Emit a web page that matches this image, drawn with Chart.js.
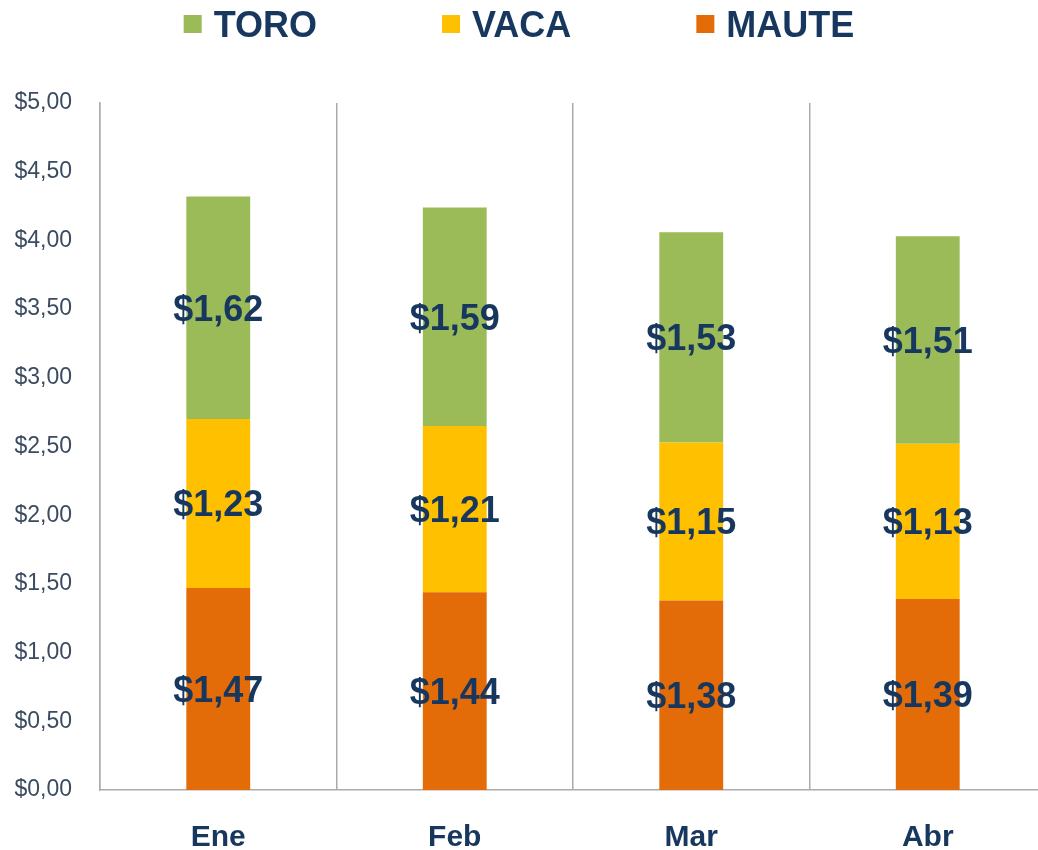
<!DOCTYPE html>
<html>
<head>
<meta charset="utf-8">
<script src="https://cdn.jsdelivr.net/npm/chart.js@4/dist/chart.umd.min.js"></script>
<style>
  html, body { margin: 0; padding: 0; background: #fff; overflow: hidden; }
  canvas { display: block; }
</style>
</head>
<body>
<canvas id="bar-chart" width="1046" height="850"></canvas>
<script>
const months = ['Ene', 'Feb', 'Mar', 'Abr']
const maute = [1.47, 1.44, 1.38, 1.39]
const vaca = [1.23, 1.21, 1.15, 1.13]
const toro = [1.62, 1.59, 1.53, 1.51]

const navy = '#17375E'
const gridGray = '#ABABAB'
const fontFamily = '"Liberation Sans", Arial, sans-serif'

function money(v) {
    return '$' + Number(v).toFixed(2).replace('.', ',')
}

// legend drawn by hand so spacing matches the original
const topLegend = {
    id: 'topLegend',
    afterDraw(chart) {
        const c = chart.ctx
        const items = chart.data.datasets.slice().reverse()
        const box = 18, gap = 12, itemGap = 125
        c.save()
        c.font = 'bold 36px ' + fontFamily
        const widths = items.map(ds => c.measureText(ds.label).width)
        let total = widths.reduce((a, w) => a + box + gap + w, 0) + itemGap * (items.length - 1)
        let x = 519 - total / 2
        items.forEach((ds, i) => {
            c.fillStyle = ds.backgroundColor
            c.fillRect(x, 15, box, box)
            c.fillStyle = navy
            c.textBaseline = 'middle'
            c.textAlign = 'left'
            c.fillText(ds.label, x + box + gap, 27)
            x += box + gap + widths[i] + itemGap
        })
        c.restore()
    }
}

const segmentLabels = {
    id: 'segmentLabels',
    afterDatasetsDraw(chart) {
        const c = chart.ctx
        c.save()
        c.font = 'bold 36px ' + fontFamily
        c.fillStyle = navy
        c.textAlign = 'center'
        c.textBaseline = 'middle'
        chart.data.datasets.forEach((ds, i) => {
            chart.getDatasetMeta(i).data.forEach((bar, j) => {
                c.fillText(money(ds.data[j]), bar.x, (bar.y + bar.base) / 2 + 3)
            })
        })
        c.restore()
    }
}

const ctx = document.getElementById('bar-chart').getContext('2d')

new Chart(ctx, {
    type: 'bar',
    data: {
        labels: months,
        datasets: [
            { label: 'MAUTE', data: maute, backgroundColor: '#E36C09' },
            { label: 'VACA', data: vaca, backgroundColor: '#FFC000' },
            { label: 'TORO', data: toro, backgroundColor: '#9BBB59' }
        ]
    },
    options: {
        responsive: false,
        animation: false,
        layout: { padding: { top: 103, left: 0, right: 0, bottom: 0 } },
        datasets: { bar: { categoryPercentage: 1, barPercentage: 0.27 } },
        plugins: {
            legend: { display: false },
            tooltip: { enabled: false }
        },
        scales: {
            x: {
                stacked: true,
                afterFit(scale) { scale.height = 60 },
                grid: { display: true, offset: true, color: gridGray, lineWidth: 1.5, drawTicks: false },
                border: { display: true, color: gridGray, width: 1.5 },
                ticks: {
                    padding: 30,
                    color: navy,
                    font: { family: fontFamily, size: 30, weight: 'bold' }
                }
            },
            y: {
                stacked: true,
                min: 0,
                max: 5,
                afterFit(scale) { scale.width = 100 },
                grid: { display: false },
                border: { display: true, color: gridGray, width: 1.5 },
                ticks: {
                    stepSize: 0.5,
                    padding: 20,
                    color: '#3B4B60',
                    font: { family: fontFamily, size: 23 },
                    callback: v => money(v)
                }
            }
        }
    },
    plugins: [topLegend, segmentLabels]
})
</script>
</body>
</html>
